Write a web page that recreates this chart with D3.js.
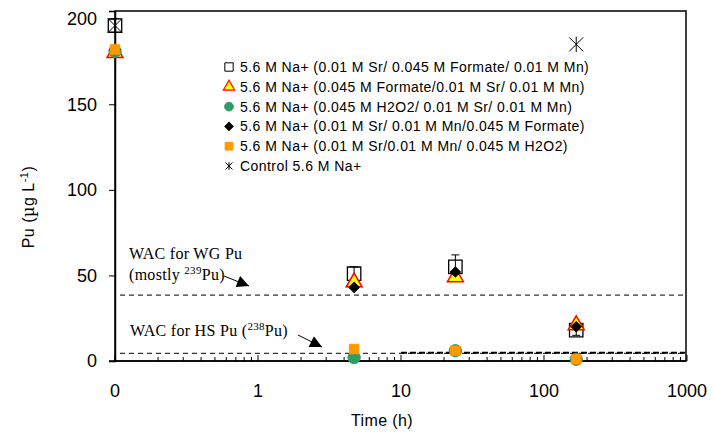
<!DOCTYPE html>
<html>
<head>
<meta charset="utf-8">
<script src="https://cdn.jsdelivr.net/npm/d3@7/dist/d3.min.js"></script>
<style>
  body { margin: 0; background: #fff; }
  svg { display: block; }
</style>
</head>
<body>
<svg id="chart" width="713" height="434"></svg>
<script>
(function(){
const width = 713;
const height = 434;

// --- Data ---
const times = [0.1, 4.7, 24, 168];   // 0 h plotted at the left edge of the log axis
const xTicks = [0.1, 1, 10, 100, 1000];
const xTickLabels = ["0", "1", "10", "100", "1000"];
const yTicks = [0, 50, 100, 150, 200];

const labels = [
  "5.6 M Na+ (0.01 M Sr/ 0.045 M Formate/ 0.01 M Mn)",
  "5.6 M Na+ (0.045 M Formate/0.01 M Sr/ 0.01 M Mn)",
  "5.6 M Na+ (0.045 M H2O2/ 0.01 M Sr/ 0.01 M Mn)",
  "5.6 M Na+ (0.01 M Sr/ 0.01 M Mn/0.045 M Formate)",
  "5.6 M Na+ (0.01 M Sr/0.01 M Mn/ 0.045 M H2O2)",
  "Control 5.6 M Na+"
];
const srFormateMn = [196, 51, 55, 18];
const srFormateMnErr = [4, 4, 7, 3];
const formateSrMn = [180, 46, 49, 21];
const h2o2SrMn = [181, 2, 6, 1];
const srMnFormate = [182, 43, 52, 20];
const srMnH2o2 = [182, 7, 6, 1];
const controlTimes = [0.1, 168];
const control = [196, 185];

const wacWG = 38.5;
const wacHS = 4.5;

// --- Scales ---
const margin = { left: 115, right: 27, top: 11, bottom: 73 };
const x = d3.scaleLog().domain([0.1, 1000]).range([margin.left, 687]);
const y = d3.scaleLinear().domain([0, 204.5]).range([361, margin.top]);

const svg = d3.select("#chart");
const sans = "Liberation Sans, Arial, sans-serif";
const serif = "Liberation Serif, Times New Roman, serif";

// --- Frame ---
svg.append("rect")
  .attr("x", margin.left).attr("y", margin.top)
  .attr("width", 686 - margin.left).attr("height", 361 - margin.top)
  .attr("fill", "none").attr("stroke", "#000").attr("stroke-width", 1.5);

// --- Y axis ---
const yAxis = svg.append("g")
  .attr("transform", `translate(${margin.left},0)`)
  .call(d3.axisLeft(y).tickValues(yTicks).tickSize(6).tickPadding(12));
yAxis.select(".domain").attr("stroke-width", 1.5);
yAxis.selectAll("text")
  .attr("font-family", sans)
  .attr("font-size", 18).attr("fill", "#000");

// --- X axis (ticks inside) ---
const minorTicks = [];
for (let dec = 0.1; dec < 1000; dec *= 10) {
  for (let k = 2; k <= 9; k++) minorTicks.push(dec * k);
}
const xAxis = svg.append("g")
  .attr("transform", "translate(0,361)");
xAxis.append("line")
  .attr("x1", margin.left - 6).attr("x2", 686)
  .attr("stroke", "#000").attr("stroke-width", 1.5);
xAxis.selectAll("line.minor")
  .data(minorTicks)
  .enter().append("line")
  .attr("class", "minor")
  .attr("x1", d => x(d)).attr("x2", d => x(d))
  .attr("y1", 0).attr("y2", -4)
  .attr("stroke", "#000");
xAxis.selectAll("line.major")
  .data(xTicks)
  .enter().append("line")
  .attr("class", "major")
  .attr("x1", d => x(d)).attr("x2", d => x(d))
  .attr("y1", 0).attr("y2", -6)
  .attr("stroke", "#000");
xAxis.selectAll("text")
  .data(xTicks)
  .enter().append("text")
  .attr("x", d => x(d))
  .attr("y", 36)
  .attr("text-anchor", "middle")
  .attr("font-family", sans)
  .attr("font-size", 18)
  .text((d, i) => xTickLabels[i]);

// --- Axis titles ---
svg.append("text")
  .attr("x", 382).attr("y", 426)
  .attr("text-anchor", "middle")
  .attr("font-family", sans)
  .attr("font-size", 16)
  .attr("letter-spacing", 0.4)
  .text("Time (h)");

const yTitle = svg.append("text")
  .attr("transform", "translate(34,207) rotate(-90)")
  .attr("text-anchor", "middle")
  .attr("font-family", sans)
  .attr("font-size", 16)
  .attr("letter-spacing", 0.5);
yTitle.append("tspan").text("Pu (");
yTitle.append("tspan").attr("font-family", "DejaVu Serif, serif").text("\u00b5");
yTitle.append("tspan").text("g L");
yTitle.append("tspan").attr("font-size", 11).attr("dy", -6).text("-1");
yTitle.append("tspan").attr("dy", 6).text(")");

// --- WAC reference lines ---
svg.append("line")
  .attr("x1", 120).attr("x2", 685)
  .attr("y1", y(wacWG)).attr("y2", y(wacWG))
  .attr("stroke", "#000").attr("stroke-dasharray", "5,4");
svg.append("line")
  .attr("x1", 120).attr("x2", 685)
  .attr("y1", y(wacHS)).attr("y2", y(wacHS))
  .attr("stroke", "#000").attr("stroke-dasharray", "5,4");
svg.append("line")
  .attr("x1", x(10)).attr("x2", 685)
  .attr("y1", y(wacHS) - 0.5).attr("y2", y(wacHS) - 0.5)
  .attr("stroke", "#000").attr("stroke-width", 2).attr("stroke-dasharray", "6,3");

// --- Annotations ---
svg.append("text").attr("x", 129).attr("y", 259)
  .attr("font-family", serif).attr("font-size", 16).attr("letter-spacing", 0.3)
  .text("WAC for WG Pu");
const t2 = svg.append("text").attr("x", 129).attr("y", 280)
  .attr("font-family", serif).attr("font-size", 16).attr("letter-spacing", 0.3);
t2.append("tspan").text("(mostly ");
t2.append("tspan").attr("font-size", 11).attr("dy", -6).text("239");
t2.append("tspan").attr("dy", 6).text("Pu)");
const t3 = svg.append("text").attr("x", 130).attr("y", 336)
  .attr("font-family", serif).attr("font-size", 16).attr("letter-spacing", 0.3);
t3.append("tspan").text("WAC for HS Pu (");
t3.append("tspan").attr("font-size", 11).attr("dy", -6).text("238");
t3.append("tspan").attr("dy", 6).text("Pu)");

svg.append("defs").append("marker")
  .attr("id", "arrow")
  .attr("viewBox", "0 0 10 10")
  .attr("refX", 10).attr("refY", 5)
  .attr("markerWidth", 13).attr("markerHeight", 12)
  .attr("markerUnits", "userSpaceOnUse")
  .attr("orient", "auto")
  .append("path").attr("d", "M0,0L10,5L0,10Z").attr("fill", "#000");
svg.append("line")
  .attr("x1", 224).attr("y1", 276).attr("x2", 249).attr("y2", 286)
  .attr("stroke", "#000").attr("marker-end", "url(#arrow)");
svg.append("line")
  .attr("x1", 298).attr("y1", 335).attr("x2", 322).attr("y2", 347)
  .attr("stroke", "#000").attr("marker-end", "url(#arrow)");

// --- Marker shapes ---
const symSquare = d3.symbol().type(d3.symbolSquare);
const symTri = d3.symbol().type(d3.symbolTriangle);
const symCircle = d3.symbol().type(d3.symbolCircle);
const symDiamond = d3.symbol().type(d3.symbolSquare); // drawn rotated 45°

function asterisk(g, cx, cy, r) {
  const a = g.append("g").attr("transform", `translate(${cx},${cy})`)
    .attr("stroke", "#000").attr("stroke-width", 1);
  a.append("line").attr("x1", -r).attr("y1", -r).attr("x2", r).attr("y2", r);
  a.append("line").attr("x1", -r).attr("y1", r).attr("x2", r).attr("y2", -r);
  a.append("line").attr("x1", 0).attr("y1", -r * 1.1).attr("x2", 0).attr("y2", r * 1.1);
}

const marks = svg.append("g");

// error bars for first series
times.forEach((t, i) => {
  const cx = x(t);
  const y1 = y(srFormateMn[i] + srFormateMnErr[i]);
  const y0 = y(srFormateMn[i] - srFormateMnErr[i]);
  marks.append("line").attr("x1", cx).attr("x2", cx).attr("y1", y1).attr("y2", y0).attr("stroke", "#000");
  marks.append("line").attr("x1", cx - 4).attr("x2", cx + 4).attr("y1", y1).attr("y2", y1).attr("stroke", "#000");
  marks.append("line").attr("x1", cx - 4).attr("x2", cx + 4).attr("y1", y0).attr("y2", y0).attr("stroke", "#000");
});

function drawSeries(vals, sym, size, fill, stroke, sw, rot) {
  marks.selectAll(null)
    .data(vals)
    .enter().append("path")
    .attr("transform", (d, i) => `translate(${x(times[i])},${y(d)}) rotate(${rot || 0})`)
    .attr("d", sym.size(size)())
    .attr("fill", fill).attr("stroke", stroke).attr("stroke-width", sw);
}
drawSeries(srFormateMn, symSquare, 180, "none", "#000", 1.3);
drawSeries(formateSrMn, symTri, 110, "#ffff00", "#ff0000", 1.5);
drawSeries(h2o2SrMn, symCircle, 120, "#339966", "#339966", 1);
drawSeries(srMnFormate, symDiamond, 52, "#000", "#000", 1, 45);
drawSeries(srMnH2o2, symSquare, 90, "#ff9900", "#ff9900", 1);
control.forEach((v, i) => asterisk(marks, x(controlTimes[i]), y(v), 7));

// --- Legend ---
const legend = svg.append("g").attr("transform", "translate(229,67)");
const legendSyms = [
  { sym: symSquare, size: 70, fill: "#fff", stroke: "#000", sw: 1 },
  { sym: symTri, size: 55, fill: "#ffff00", stroke: "#ff0000", sw: 1.2 },
  { sym: symCircle, size: 60, fill: "#339966", stroke: "#339966", sw: 1 },
  { sym: symDiamond, size: 34, fill: "#000", stroke: "#000", sw: 1, rot: 45 },
  { sym: symSquare, size: 60, fill: "#ff9900", stroke: "#ff9900", sw: 1 },
  null
];
labels.forEach((lab, i) => {
  const row = legend.append("g").attr("transform", `translate(0,${i * 19.8})`);
  const s = legendSyms[i];
  if (s) {
    row.append("path").attr("d", s.sym.size(s.size)())
      .attr("transform", `rotate(${s.rot || 0})`)
      .attr("fill", s.fill).attr("stroke", s.stroke).attr("stroke-width", s.sw);
  } else {
    asterisk(row, 0, 0, 3.5);
  }
  row.append("text")
    .attr("x", 11).attr("y", 5)
    .attr("font-family", sans)
    .attr("font-size", 14)
    .attr("letter-spacing", 0.45)
    .text(lab);
});
})();
</script>
</body>
</html>
